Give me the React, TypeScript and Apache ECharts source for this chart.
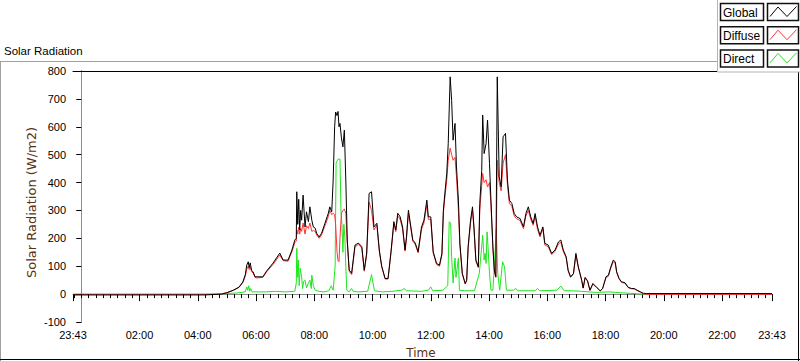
import React, { useEffect, useRef } from "react";
import * as echarts from "echarts";

// x values are minutes after midnight; the day window runs 23:43 (prev day) to 23:43
const xMin = -17;
const xMax = 1423;
const xMajorTicks = [-17, 120, 240, 360, 480, 600, 720, 840, 960, 1080, 1200, 1320, 1423];
const xTickLabels = ["23:43", "02:00", "04:00", "06:00", "08:00", "10:00", "12:00", "14:00", "16:00", "18:00", "20:00", "22:00", "23:43"];
const yMin = -100;
const yMax = 800;
const yStep = 100;

const globalData: [number, number][] = [
  [-17, -3], [255, -3], [289, 0], [300, 5], [313, 14], [325, 25], [333, 44], [338, 70], [341, 104], [344, 116],
  [346, 95], [348, 112], [351, 85], [354, 80], [358, 62], [362, 62], [374, 62], [382, 83], [395, 111], [409, 147],
  [416, 122], [426, 122], [434, 158], [440, 194], [443, 200], [444, 367], [446, 250], [448, 340], [450, 230], [452, 300],
  [454, 265], [457, 355], [461, 241], [464, 295], [468, 260], [471, 313], [475, 265], [478, 241], [482, 236], [485, 218],
  [490, 205], [495, 218], [502, 254], [509, 290], [512, 313], [516, 295], [519, 409], [522, 600], [524, 653], [527, 640],
  [529, 655], [531, 600], [533, 612], [536, 560], [539, 528], [542, 588], [545, 409], [548, 194], [552, 86], [557, 75],
  [564, 176], [571, 183], [578, 170], [583, 86], [588, 147], [593, 361], [598, 367], [603, 241], [609, 254], [614, 158],
  [619, 100], [626, 56], [632, 56], [638, 150], [644, 260], [648, 230], [652, 290], [657, 277], [662, 241], [667, 158],
  [670, 205], [674, 301], [677, 265], [683, 194], [688, 183], [694, 152], [701, 241], [706, 265], [712, 337], [715, 277],
  [720, 277], [725, 152], [732, 110], [738, 104], [743, 146], [746, 301], [749, 361], [753, 433], [756, 540], [760, 779],
  [763, 695], [766, 552], [770, 612], [773, 456], [777, 337], [780, 182], [785, 74], [791, 38], [794, 50], [797, 170],
  [802, 265], [806, 313], [809, 241], [813, 122], [818, 98], [821, 325], [825, 444], [827, 642], [830, 504], [834, 540],
  [837, 624], [841, 469], [844, 337], [848, 170], [851, 86], [854, 62], [857, 779], [861, 421], [865, 385], [869, 564],
  [874, 576], [878, 409], [882, 337], [887, 325], [892, 289], [897, 277], [904, 271], [911, 241], [916, 289], [921, 313],
  [926, 277], [931, 253], [935, 289], [940, 241], [945, 211], [951, 241], [955, 182], [962, 176], [969, 146], [976, 158],
  [983, 187], [988, 194], [993, 158], [999, 134], [1003, 86], [1008, 62], [1014, 74], [1019, 146], [1024, 98], [1031, 50],
  [1034, 22], [1038, 60], [1043, 48], [1048, 14], [1054, 38], [1062, 24], [1069, 12], [1074, 20], [1081, 62], [1086, 68],
  [1091, 98], [1096, 122], [1100, 116], [1103, 80], [1108, 56], [1113, 44], [1120, 41], [1127, 24], [1134, 20], [1139, 20],
  [1145, 14], [1152, 8], [1158, 3], [1165, 2], [1423, 2],
];

const diffuseData: [number, number][] = [
  [-17, 0], [255, 0], [289, 1], [300, 5], [313, 13], [325, 24], [333, 42], [338, 64], [341, 90], [344, 100],
  [346, 88], [348, 98], [351, 80], [354, 76], [358, 60], [362, 58], [374, 60], [382, 80], [395, 106], [409, 140],
  [416, 120], [426, 118], [434, 152], [440, 185], [443, 190], [444, 230], [446, 215], [448, 240], [450, 215], [452, 235],
  [454, 225], [457, 255], [461, 215], [464, 245], [468, 235], [471, 255], [475, 225], [478, 228], [482, 225], [485, 212],
  [490, 200], [495, 212], [502, 245], [509, 278], [512, 300], [516, 285], [519, 290], [522, 285], [524, 250], [527, 150],
  [529, 120], [531, 116], [533, 200], [536, 290], [539, 300], [542, 305], [545, 290], [548, 185], [552, 82], [557, 70],
  [564, 170], [571, 178], [578, 165], [583, 82], [588, 142], [593, 330], [598, 300], [603, 230], [609, 248], [614, 154],
  [619, 97], [626, 54], [632, 54], [638, 146], [644, 252], [648, 224], [652, 280], [657, 268], [662, 234], [667, 154],
  [670, 198], [674, 290], [677, 258], [683, 190], [688, 178], [694, 148], [701, 232], [706, 256], [712, 320], [715, 268],
  [720, 268], [725, 148], [732, 106], [738, 100], [743, 140], [746, 290], [749, 345], [753, 410], [756, 480], [760, 523],
  [763, 500], [766, 480], [770, 490], [773, 420], [777, 300], [780, 176], [785, 72], [791, 36], [794, 48], [797, 165],
  [802, 255], [806, 300], [809, 235], [813, 118], [818, 95], [821, 300], [825, 390], [827, 433], [830, 400], [834, 410],
  [837, 384], [841, 400], [844, 320], [848, 165], [851, 82], [854, 60], [857, 480], [861, 400], [865, 370], [869, 470],
  [874, 500], [878, 390], [882, 325], [887, 315], [892, 280], [897, 270], [904, 264], [911, 235], [916, 280], [921, 300],
  [926, 268], [931, 247], [935, 280], [940, 232], [945, 205], [951, 235], [955, 176], [962, 170], [969, 142], [976, 153],
  [983, 180], [988, 186], [993, 153], [999, 130], [1003, 83], [1008, 60], [1014, 72], [1019, 140], [1024, 95], [1031, 48],
  [1034, 21], [1038, 58], [1043, 46], [1048, 13], [1054, 36], [1062, 23], [1069, 11], [1074, 19], [1081, 59], [1086, 64],
  [1091, 94], [1096, 116], [1100, 110], [1103, 77], [1108, 54], [1113, 42], [1120, 39], [1127, 23], [1134, 19], [1139, 19],
  [1145, 13], [1152, 7], [1158, 1], [1165, -1], [1423, -1],
];

const directData: [number, number][] = [
  [289, 0], [300, 2], [320, 4], [338, 8], [341, 26], [343, 14], [345, 30], [347, 10], [349, 20], [352, 8],
  [380, 8], [400, 10], [420, 8], [440, 10], [443, 40], [444, 164], [446, 60], [447, 122], [449, 30], [451, 93],
  [454, 62], [456, 20], [458, 44], [461, 50], [464, 22], [468, 40], [471, 50], [474, 20], [475, 68], [478, 30],
  [482, 14], [490, 10], [500, 8], [510, 12], [515, 30], [519, 14], [523, 100], [525, 470], [529, 484], [533, 484],
  [535, 300], [537, 250], [539, 150], [541, 250], [543, 205], [545, 100], [547, 14], [552, 8], [557, 20], [560, 10],
  [570, 8], [590, 10], [594, 40], [598, 70], [601, 40], [604, 12], [620, 8], [640, 10], [660, 14], [665, 20],
  [670, 12], [700, 10], [715, 14], [720, 26], [724, 12], [745, 14], [755, 30], [758, 259], [761, 255], [763, 134],
  [766, 40], [770, 129], [772, 60], [777, 129], [779, 14], [790, 12], [810, 12], [820, 74], [827, 211], [830, 122],
  [832, 146], [834, 110], [836, 223], [838, 170], [841, 74], [844, 14], [848, 14], [851, 98], [855, 235], [858, 74],
  [862, 14], [868, 116], [872, 98], [876, 14], [890, 14], [895, 20], [900, 12], [935, 12], [940, 20], [945, 12],
  [980, 14], [988, 29], [995, 12], [1010, 12], [1030, 10], [1060, 6], [1090, 8], [1100, 6], [1158, 0],
];

const seriesNames = ["Global", "Diffuse", "Direct"];
const seriesColors = ["#000000", "#ff3333", "#1ee61e"];

const FONT = "Liberation Sans";
const WIDE_FONT = "DejaVu Sans";

function buildMinorTicks(): number[] {
  const out: number[] = [];
  for (let m = -15; m < xMax; m += 15) out.push(m);
  return out;
}

export default function App() {
  const ref = useRef<HTMLDivElement>(null);
  useEffect(() => {
    if (!ref.current) return;
    const chart = echarts.init(ref.current, null, { renderer: "svg" });
    const gridL = 73, gridT = 71, gridR = 772, gridB = 322;
    const legendRows = seriesNames.map((name, i) => {
      const top = 3.5 + i * 23.2;
      return [
        { type: "rect", shape: { x: 720.5, y: top, width: 43, height: 17 }, style: { fill: "#fff", stroke: "#111", lineWidth: 1.5 }, z: 101 },
        { type: "text", x: 723, y: top + 9, style: { text: name, fontSize: 12, fontFamily: FONT, fill: "#000", verticalAlign: "middle" }, z: 102 },
        { type: "rect", shape: { x: 767.5, y: top, width: 31, height: 17 }, style: { fill: "#fff", stroke: "#111", lineWidth: 1.5 }, z: 101 },
        { type: "polyline", shape: { points: [[770, top + 13], [778, top + 3.5], [787, top + 13], [796.5, top + 3]] }, style: { stroke: seriesColors[i], lineWidth: 1, fill: "none" }, z: 102 },
      ];
    }).flat();

    chart.setOption({
      animation: false,
      backgroundColor: "#ffffff",
      grid: { left: gridL, top: gridT, width: gridR - gridL, height: gridB - gridT, containLabel: false },
      xAxis: [
        {
          type: "value", min: xMin, max: xMax, position: "bottom",
          axisLine: { show: true, lineStyle: { color: "#8c8c8c", width: 1 } },
          axisTick: { show: true, customValues: xMajorTicks, length: 7, lineStyle: { color: "#000" } },
          axisLabel: {
            show: true, customValues: xMajorTicks, margin: 7, fontSize: 11, fontFamily: FONT, color: "#000",
            formatter: (v: number) => {
              const i = xMajorTicks.findIndex((t) => Math.abs(t - v) < 0.5);
              return i >= 0 ? xTickLabels[i] : "";
            },
          },
          splitLine: { show: false },
        },
        {
          type: "value", min: xMin, max: xMax, position: "bottom",
          axisLine: { show: false },
          axisTick: { show: true, customValues: buildMinorTicks(), length: 4, lineStyle: { color: "#000" } },
          axisLabel: { show: false }, splitLine: { show: false },
        },
        {
          type: "value", min: xMin, max: xMax, position: "top",
          axisLine: { show: true, lineStyle: { color: "#000", width: 1 } },
          axisTick: { show: false }, axisLabel: { show: false }, splitLine: { show: false },
        },
      ],
      yAxis: [
        {
          type: "value", min: yMin, max: yMax, interval: yStep, position: "left",
          axisLine: { show: true, lineStyle: { color: "#000", width: 1 } },
          axisTick: { show: true, length: 5, lineStyle: { color: "#000" } },
          axisLabel: { margin: 7, fontSize: 11, fontFamily: FONT, color: "#000" },
          splitLine: { show: false },
        },
        {
          type: "value", min: yMin, max: yMax, interval: yStep, position: "right",
          axisLine: { show: true, lineStyle: { color: "#8c8c8c", width: 1 } },
          axisTick: { show: false }, axisLabel: { show: false }, splitLine: { show: false },
        },
      ],
      series: [
        { name: "Direct", type: "line", data: directData, showSymbol: false, symbol: "none", lineStyle: { color: seriesColors[2], width: 1 }, itemStyle: { color: seriesColors[2] } },
        { name: "Diffuse", type: "line", data: diffuseData, showSymbol: false, symbol: "none", lineStyle: { color: seriesColors[1], width: 1 }, itemStyle: { color: seriesColors[1] } },
        { name: "Global", type: "line", data: globalData, showSymbol: false, symbol: "none", lineStyle: { color: seriesColors[0], width: 1 }, itemStyle: { color: seriesColors[0] } },
      ],
      graphic: [
        { type: "line", shape: { x1: 0, y1: 61.5, x2: 718, y2: 61.5 }, style: { stroke: "#a0a0a0", lineWidth: 1 }, z: 50 },
        { type: "line", shape: { x1: 0.5, y1: 61, x2: 0.5, y2: 361 }, style: { stroke: "#a0a0a0", lineWidth: 1 }, z: 50 },
        { type: "line", shape: { x1: 0, y1: 359.5, x2: 800, y2: 359.5 }, style: { stroke: "#000", lineWidth: 1 }, z: 50 },
        { type: "line", shape: { x1: 798.5, y1: 72, x2: 798.5, y2: 361 }, style: { stroke: "#000", lineWidth: 1 }, z: 50 },
        { type: "text", x: 4, y: 51, style: { text: "Solar Radiation", fontSize: 11.5, fontFamily: FONT, fill: "#000", verticalAlign: "middle" }, z: 50 },
        { type: "text", x: 31.5, y: 202.5, rotation: Math.PI / 2, style: { text: "Solar Radiation (W/m2)", fontSize: 13, fontFamily: WIDE_FONT, fill: "#5a3210", align: "center", verticalAlign: "middle" }, z: 50 },
        { type: "text", x: 421, y: 353, style: { text: "Time", fontSize: 12, fontFamily: WIDE_FONT, fill: "#5a3210", align: "center", verticalAlign: "middle" }, z: 50 },
        { type: "rect", shape: { x: 717.5, y: -1, width: 90, height: 73 }, style: { fill: "#fff", stroke: "#b4b4b4", lineWidth: 1 }, z: 100 },
        ...legendRows,
      ],
    });
    return () => chart.dispose();
  }, []);
  return <div ref={ref} style={{ position: "absolute", left: 0, top: 0, width: 800, height: 361 }} />;
}
